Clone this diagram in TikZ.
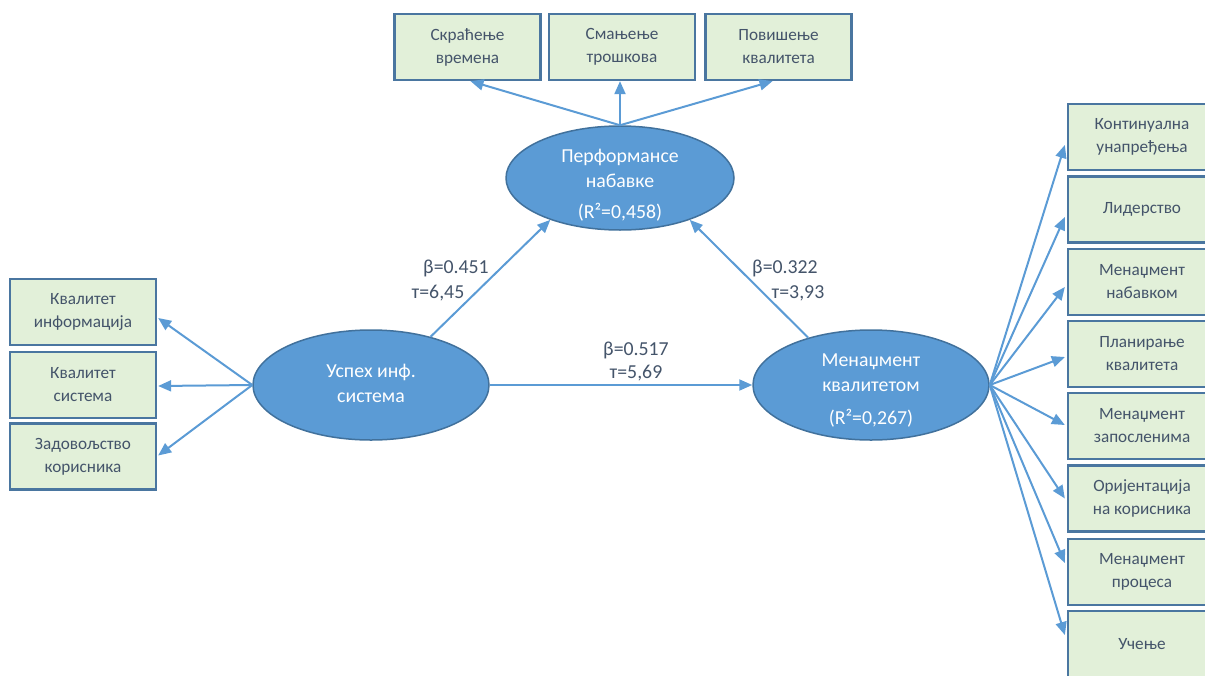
\documentclass[tikz,border=0pt]{standalone}
\usepackage{fontspec}
\setmainfont{Carlito}
\usetikzlibrary{arrows.meta,calc,shapes.geometric}
\definecolor{ellfill}{HTML}{5B9BD5}
\definecolor{elldraw}{HTML}{41719C}
\definecolor{boxfill}{HTML}{E2F0D9}
\definecolor{boxdraw}{HTML}{4A76A0}
\definecolor{txt}{HTML}{44546A}
\definecolor{arr}{HTML}{5B9BD5}
\tikzset{
  ind/.style={draw=boxdraw, line width=2.3pt, fill=boxfill, minimum width=146pt, minimum height=66pt,
    align=center, text=txt, font=\fontsize{17.2}{23}\selectfont, inner sep=0pt},
  lat/.style={ellipse, draw=elldraw, line width=1.5pt, fill=ellfill, inner sep=0pt},
  lattext/.style={align=center, text=white, font=\fontsize{19.8}{25}\selectfont, inner sep=0pt},
  coef/.style={text=txt, font=\fontsize{19.8}{23}\selectfont, inner sep=0pt},
  link/.style={draw=arr, line width=2pt, -{Triangle[length=13pt,width=11pt]}}
}
\begin{document}
\begin{tikzpicture}[x=1pt,y=-1pt]
\useasboundingbox (0,0) rectangle (1205,675);
% top indicator boxes
\node[ind] (t1) at (467.5,47) {Скраћење\\времена};
\node[ind] (t2) at (622,47) {Смањење\\трошкова};
\node[ind] (t3) at (778.5,47) {Повишење\\квалитета};
% left boxes
\node[ind] (l1) at (83,312) {Квалитет\\информација};
\node[ind] (l2) at (83,385) {Квалитет\\система};
\node[ind] (l3) at (83,456.5) {Задовољство\\корисника};
% right boxes
\node[ind, minimum width=148pt] (r1) at (1142,137) {Континуална\\унапређења};
\node[ind, minimum width=148pt] (r2) at (1142,209.5) {Лидерство};
\node[ind, minimum width=148pt] (r3) at (1142,282) {Менаџмент\\набавком};
\node[ind, minimum width=148pt] (r4) at (1142,354) {Планирање\\квалитета};
\node[ind, minimum width=148pt] (r5) at (1142,426) {Менаџмент\\запосленима};
\node[ind, minimum width=148pt] (r6) at (1142,498.5) {Оријентација\\на корисника};
\node[ind, minimum width=148pt] (r7) at (1142,572) {Менаџмент\\процеса};
\node[ind, minimum width=148pt] (r8) at (1142,644) {Учење};
% latent ellipses
\node[lat, minimum width=228pt, minimum height=104pt] (pn) at (620,178) {};
\node[lat, minimum width=236pt, minimum height=110pt] (us) at (371,385) {};
\node[lat, minimum width=236pt, minimum height=110pt] (mk) at (871,385) {};
\node[lattext] (pntx) at (620,185) {Перформансе\\набавке\\[6pt](R²=0,458)};
\node[lattext] (ustx) at (371,383.5) {Успех инф.\\система};
\node[lattext] (mktx) at (871,391) {Менаџмент\\квалитетом\\[8pt](R²=0,267)};
% arrows: performance to indicators
\draw[link] (pn.north) -- ($(t1.south)+(3,0)$);
\draw[link] (pn.north) -- (t2.south -| pn.north);
\draw[link] (pn.north) -- ($(t3.south)+(-6,0)$);
% left
\draw[link] (us.west) -- ($(l1.east)+(1,6)$);
\draw[link] (us.west) -- ($(l2.east)+(1,1)$);
\draw[link] (us.west) -- ($(l3.east)+(1,-1)$);
% structural
\draw[link] (us.east) -- (mk.west);
\draw[link] (us.39) -- (pn.211);
\draw[link] (mk.143) -- (pn.329);
% right
\draw[link] (mk.east) -- ($(r1.west)+(-2,8)$);
\draw[link] (mk.east) -- ($(r2.west)+(-2,7.5)$);
\draw[link] (mk.east) -- ($(r3.west)+(-2,5)$);
\draw[link] (mk.east) -- ($(r4.west)+(-2,3)$);
\draw[link] (mk.east) -- ($(r5.west)+(-2,-1)$);
\draw[link] (mk.east) -- ($(r6.west)+(-2,0)$);
\draw[link] (mk.east) -- ($(r7.west)+(-2,-9)$);
\draw[link] (mk.east) -- ($(r8.west)+(-2,-9)$);
% coefficients
\node[coef] (c1b) at (456,268) {β=0.451};
\node[coef] (c1t) at (438,293) {т=6,45};
\node[coef] (c2b) at (785,268) {β=0.322};
\node[coef] (c2t) at (798,293) {т=3,93};
\node[coef] (c3b) at (636,350) {β=0.517};
\node[coef] (c3t) at (636,373) {т=5,69};
\end{tikzpicture}
\end{document}
